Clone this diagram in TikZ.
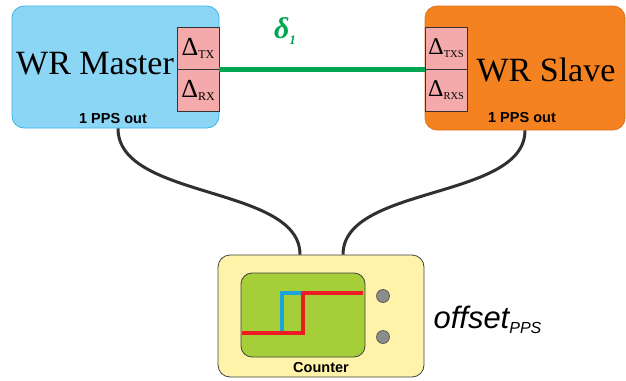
\documentclass[tikz,border=0pt]{standalone}
\usepackage{fontspec}
\setmainfont{Liberation Serif}
\setsansfont{Liberation Sans}
\definecolor{mblue}{HTML}{8BD5F5}
\definecolor{mbluedk}{HTML}{3DB4E8}
\definecolor{sorange}{HTML}{F58220}
\definecolor{sorangedk}{HTML}{E0701A}
\definecolor{dpink}{HTML}{F4AAAA}
\definecolor{lgreen}{HTML}{00A651}
\definecolor{cyellow}{HTML}{FEF3A8}
\definecolor{cgreen}{HTML}{A6CE39}
\definecolor{sred}{HTML}{ED1C24}
\definecolor{sblue}{HTML}{1CA3DC}
\definecolor{cable}{HTML}{303030}
\begin{document}
\begin{tikzpicture}[x=1pt,y=-1pt,
  dbox/.style={draw=black!80,fill=dpink,line width=0.8pt,minimum width=42pt,minimum height=42pt,inner sep=0pt},
  wrbox/.style={rounded corners=12pt,line width=0.8pt,inner sep=0pt},
  ppslabel/.style={font=\sffamily\bfseries\fontsize{14.5}{14.5}\selectfont},
  cab/.style={draw=cable,line width=3pt}]
\useasboundingbox (0,0) rectangle (626,380);
% master
\node[wrbox,draw=mbluedk,fill=mblue,minimum width=207pt,minimum height=122pt] (master) at (115.5,67) {};
\node[font=\fontsize{34}{34}\selectfont] (mtxt) at (95,64) {WR Master};
\node[dbox] (mtx) at (198,48) {};
\node[dbox] (mrx) at (198,90) {};
\node (mtxl) at (mtx) {\fontsize{26}{26}\selectfont Δ\raisebox{-3pt}{\fontsize{12}{12}\selectfont TX}};
\node (mrxl) at (mrx) {\fontsize{26}{26}\selectfont Δ\raisebox{-3pt}{\fontsize{12}{12}\selectfont RX}};
\node[ppslabel] (mpps) at (113,119) {1 PPS out};
% slave
\node[wrbox,draw=sorangedk,fill=sorange,minimum width=200pt,minimum height=124pt] (slave) at (525,68) {};
\node[font=\fontsize{34}{34}\selectfont] (stxt) at (546,70) {WR Slave};
\node[dbox] (stx) at (446,48) {};
\node[dbox] (srx) at (446,90) {};
\node (stxl) at (stx) {\fontsize{24}{24}\selectfont Δ\raisebox{-3pt}{\fontsize{10.5}{10.5}\selectfont TXS}};
\node (srxl) at (srx) {\fontsize{24}{24}\selectfont Δ\raisebox{-3pt}{\fontsize{10.5}{10.5}\selectfont RXS}};
\node[ppslabel] (spps) at (522,118) {1 PPS out};
% link
\draw[lgreen,line width=5pt] (mtx.south east) -- (stx.south west);
\node[text=lgreen] (delta) at (285,31) {\fontsize{30}{30}\selectfont\bfseries\itshape δ\raisebox{-6pt}{\fontsize{13}{13}\selectfont 1}};
% counter
\node[wrbox,draw=black!75,fill=cyellow,minimum width=206pt,minimum height=122pt] (counter) at (321,316) {};
\node[draw=black!75,fill=cgreen,rounded corners=11pt,line width=0.8pt,minimum width=124pt,minimum height=84pt,inner sep=0pt] (screen) at (303,315) {};
\coordinate (r0) at (242,333);
\coordinate (r1) at (303,333);
\coordinate (r2) at (303,293);
\coordinate (r3) at (363,293);
\coordinate (b0) at (282,333);
\coordinate (b1) at (282,293);
\draw[sblue,line width=3.5pt] (b0) -- (b1) -- (r2);
\draw[sred,line width=3.5pt] (r0) -- (r1) -- (r2) -- (r3);
\node[circle,draw=black!70,fill=black!45,minimum size=13pt,inner sep=0pt,line width=0.6pt] (dot1) at (383,296) {};
\node[circle,draw=black!70,fill=black!45,minimum size=13pt,inner sep=0pt,line width=0.6pt] (dot2) at (383,337) {};
\node[ppslabel] (ctxt) at (321,368) {Counter};
\node[anchor=base west,font=\sffamily\itshape\fontsize{31}{31}\selectfont] (offs) at (430,328) {offset\raisebox{-5pt}{\fontsize{16}{16}\selectfont PPS}};
% cables
\draw[cab] ([xshift=2.5pt]master.south) .. controls (118,200) and (300,185) .. ([xshift=-21pt]counter.north);
\draw[cab] (slave.south) .. controls (525,200) and (343,185) .. ([xshift=22pt]counter.north);
\end{tikzpicture}
\end{document}
